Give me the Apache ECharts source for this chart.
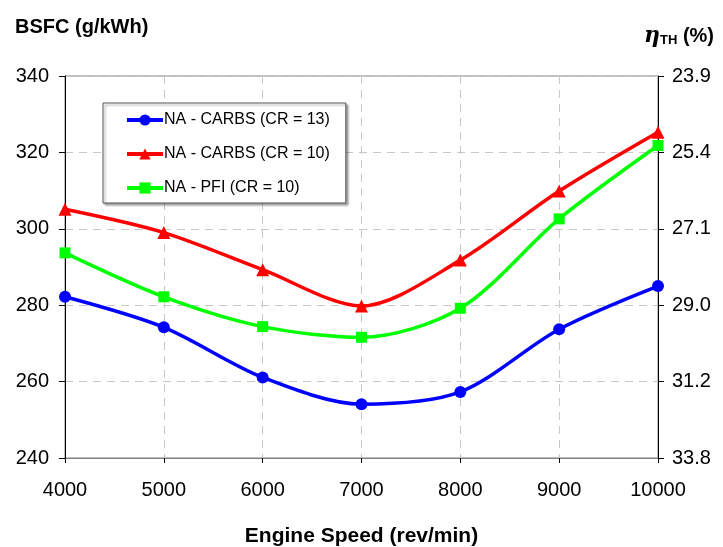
<!DOCTYPE html>
<html><head><meta charset="utf-8">
<script src="https://cdn.jsdelivr.net/npm/echarts@6/dist/echarts.min.js"></script>
<style>html,body{margin:0;padding:0;background:#fff}#c{width:723px;height:547px}</style>
</head><body><div id="c"></div>
<script>
const speeds = [4000, 5000, 6000, 7000, 8000, 9000, 10000];
const carbsCR13 = [282.2, 274.2, 261.1, 254.1, 257.3, 273.7, 285.0];
const carbsCR10 = [305.1, 299.0, 289.3, 279.8, 291.8, 309.9, 325.3];
const pfiCR10 = [293.7, 282.2, 274.4, 271.6, 279.2, 302.6, 321.8];
const seriesNames = ['NA - CARBS (CR = 13)', 'NA - CARBS (CR = 10)', 'NA - PFI (CR = 10)'];
const bsfcTicks = [240, 260, 280, 300, 320, 340];
const etaLabels = ['33.8', '31.2', '29.0', '27.1', '25.4', '23.9'];

const chart = echarts.init(document.getElementById('c'), null, {renderer: 'canvas'});
const F = 'Liberation Sans, Arial, sans-serif';
function pairs(v) { return speeds.map((s, i) => [s, v[i]]); }
const colors = ['#0000ff', '#ff0000', '#00ff00'];
const symbols = ['circle', 'triangle', 'rect'];
const sizes = [12, 13, 11];
const datasets = [carbsCR13, carbsCR10, pfiCR10];

chart.setOption({
  animation: false,
  backgroundColor: '#fff',
  title: [
    {text: 'BSFC (g/kWh)', left: 10, top: 12, textStyle: {fontFamily: F, fontSize: 20, fontWeight: 'bold', color: '#000'}},
    {text: '{eta|η}{sub|TH}{par| (%)}', right: 4, top: 20, textStyle: {rich: {
      eta: {fontFamily: 'DejaVu Serif, serif', fontStyle: 'italic', fontSize: 22, color: '#000'},
      sub: {fontFamily: F, fontSize: 13, fontWeight: 'bold', color: '#000', padding: [9, 0, 0, 0]},
      par: {fontFamily: F, fontSize: 20, fontWeight: 'bold', color: '#000'}
    }}},
  ],
  legend: {
    orient: 'vertical', left: 103, top: 103,
    padding: [9, 16, 7, 22],
    itemGap: 18, itemWidth: 36, itemHeight: 14,
    borderColor: '#555', borderWidth: 1, backgroundColor: '#fff',
    shadowColor: 'rgba(0,0,0,0.35)', shadowBlur: 2, shadowOffsetX: 2, shadowOffsetY: 2,
    lineStyle: {width: 4},
    textStyle: {fontFamily: F, fontSize: 16, color: '#000', padding: [0, 0, 0, -4]},
    data: seriesNames
  },
  grid: {left: 65, right: 65, top: 76, bottom: 89, show: true, borderColor: '#808080', borderWidth: 1,
    containLabel: false, outerBoundsMode: 'none'},
  xAxis: {
    type: 'value', min: 4000, max: 10000, interval: 1000,
    name: 'Engine Speed (rev/min)', nameLocation: 'middle', nameGap: 68,
    nameTextStyle: {fontFamily: F, fontSize: 21, fontWeight: 'bold', color: '#000'},
    axisLine: {lineStyle: {color: '#808080', width: 1}},
    axisTick: {show: true, length: 5, lineStyle: {color: '#000'}},
    axisLabel: {fontFamily: F, fontSize: 20, color: '#000', margin: 22, formatter: v => String(v)},
    splitLine: {show: true, lineStyle: {type: [8, 6], color: '#c8c8c8', width: 1}}
  },
  yAxis: [
    {
      type: 'value', min: bsfcTicks[0], max: bsfcTicks[bsfcTicks.length - 1], interval: 20,
      axisLine: {show: true, lineStyle: {color: '#000', width: 1}},
      axisTick: {show: true, length: 6, lineStyle: {color: '#000'}},
      axisLabel: {fontFamily: F, fontSize: 20, color: '#000', margin: 16},
      splitLine: {show: true, lineStyle: {type: [8, 6], color: '#c8c8c8', width: 1}}
    },
    {
      type: 'value', position: 'right', min: bsfcTicks[0], max: bsfcTicks[bsfcTicks.length - 1], interval: 20,
      axisLine: {show: true, lineStyle: {color: '#000', width: 1}},
      axisTick: {show: true, length: 6, lineStyle: {color: '#000'}},
      axisLabel: {fontFamily: F, fontSize: 20, color: '#000', margin: 14,
        formatter: v => etaLabels[bsfcTicks.indexOf(v)] || ''},
      splitLine: {show: false}
    }
  ],
  series: datasets.map((d, i) => ({
    name: seriesNames[i], type: 'line', data: pairs(d), smooth: 0.3,
    symbol: symbols[i], symbolSize: sizes[i], showSymbol: true,
    lineStyle: {color: colors[i], width: 3.5},
    itemStyle: {color: colors[i]},
    z: 3 - i
  }))
});
</script></body></html>
